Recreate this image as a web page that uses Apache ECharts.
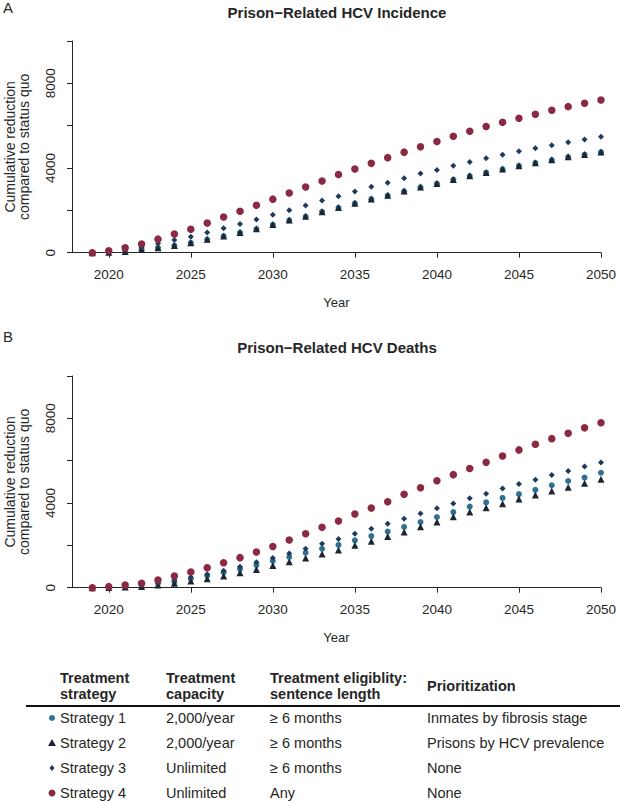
<!DOCTYPE html>
<html>
<head>
<meta charset="utf-8">
<script src="https://cdn.jsdelivr.net/npm/echarts@6/dist/echarts.min.js"></script>
<style>
  html, body { margin: 0; padding: 0; background: #fff; }
  #chart { width: 620px; height: 801px; }
</style>
</head>
<body>
<div id="chart"></div>
<script>
const years = [2019, 2020, 2021, 2022, 2023, 2024, 2025, 2026, 2027, 2028, 2029, 2030, 2031, 2032, 2033, 2034,
  2035, 2036, 2037, 2038, 2039, 2040, 2041, 2042, 2043, 2044, 2045, 2046, 2047, 2048, 2049, 2050];
const xTicks = [2020, 2025, 2030, 2035, 2040, 2045, 2050];
const yLabels = [0, 4000, 8000];

// panel A: cumulative incidence reduction
const incS1 = [0, 20, 60, 150, 230, 340, 465, 620, 780, 950, 1120, 1320, 1530, 1710, 1930, 2120,
  2330, 2530, 2700, 2900, 3090, 3260, 3450, 3620, 3780, 3940, 4100, 4240, 4380, 4520, 4630, 4750];
const incS2 = [0, 20, 60, 160, 235, 345, 470, 630, 785, 960, 1130, 1330, 1540, 1720, 1940, 2130,
  2340, 2540, 2710, 2910, 3100, 3270, 3460, 3630, 3790, 3950, 4110, 4250, 4390, 4530, 4640, 4760];
const incS3 = [0, 30, 125, 250, 440, 600, 750, 960, 1150, 1350, 1570, 1790, 2010, 2230, 2460, 2670,
  2890, 3110, 3310, 3520, 3740, 3910, 4110, 4280, 4460, 4630, 4790, 4930, 5080, 5220, 5350, 5480];
const incS4 = [0, 90, 235, 410, 640, 880, 1110, 1400, 1690, 1960, 2240, 2530, 2820, 3100, 3390, 3690,
  3950, 4220, 4490, 4750, 5000, 5250, 5500, 5740, 5960, 6160, 6350, 6540, 6730, 6900, 7060, 7210];

// panel B: cumulative deaths averted
const dthS1 = [0, 15, 60, 125, 205, 285, 425, 570, 725, 880, 1070, 1260, 1450, 1650, 1840, 2020,
  2240, 2440, 2650, 2870, 3100, 3340, 3570, 3830, 4030, 4240, 4420, 4620, 4840, 5040, 5200, 5430];
const dthS2 = [0, 5, 30, 60, 125, 205, 315, 425, 550, 710, 865, 1050, 1230, 1400, 1590, 1780,
  2000, 2200, 2420, 2630, 2880, 3100, 3350, 3570, 3780, 3970, 4190, 4380, 4570, 4750, 4930, 5120];
const dthS3 = [0, 20, 80, 140, 235, 360, 490, 630, 800, 990, 1200, 1400, 1620, 1840, 2080, 2300,
  2550, 2790, 3020, 3260, 3500, 3750, 3980, 4220, 4440, 4680, 4900, 5100, 5320, 5510, 5720, 5910];
const dthS4 = [0, 50, 125, 205, 360, 550, 740, 945, 1180, 1420, 1685, 1950, 2250, 2550, 2850, 3150,
  3480, 3760, 4060, 4410, 4720, 5050, 5340, 5630, 5920, 6220, 6510, 6780, 7040, 7290, 7550, 7790];

// legend table
const strategies = ["Strategy 1", "Strategy 2", "Strategy 3", "Strategy 4"];
const capacity = ["2,000/year", "2,000/year", "Unlimited", "Unlimited"];
const eligibility = ["\u2265 6 months", "\u2265 6 months", "\u2265 6 months", "Any"];
const prioritization = ["Inmates by fibrosis stage", "Prisons by HCV prevalence", "None", "None"];
const headers = ["Treatment\nstrategy", "Treatment\ncapacity", "Treatment eligiblity:\nsentence length", "Prioritization"];

const colors = ["#2f7193", "#1b2632", "#1f3a5c", "#8b2942"];
const symbols = ["circle", "triangle", "diamond", "circle"];
const sizes = [6, 7, 6, 7.5];

const FONT = "'Liberation Sans', Arial, sans-serif";
const INK = "#262626";

const chart = echarts.init(document.getElementById("chart"), null, { renderer: "svg" });

function mkX(idx) {
  return {
    gridIndex: idx, type: "value", min: 2017.76, max: 2050, offset: 5,
    name: "Year", nameLocation: "middle", nameGap: 38,
    nameTextStyle: { fontFamily: FONT, fontSize: 13, color: INK },
    axisLine: { lineStyle: { color: INK, width: 1 } },
    axisTick: { customValues: xTicks, length: 5, lineStyle: { color: INK } },
    axisLabel: { customValues: xTicks, margin: 10, fontFamily: FONT, fontSize: 13.5, color: INK,
      formatter: v => String(v) },
    splitLine: { show: false }
  };
}
function mkY(idx) {
  return {
    gridIndex: idx, type: "value", min: 0, max: 10000, interval: 2000,
    name: "Cumulative reduction\ncompared to status quo", nameLocation: "middle", nameGap: 41, nameRotate: 90,
    nameTextStyle: { fontFamily: FONT, fontSize: 14, color: INK, lineHeight: 14 },
    axisLine: { show: true, lineStyle: { color: INK, width: 1 } },
    axisTick: { show: true, length: 5, lineStyle: { color: INK } },
    axisLabel: { customValues: yLabels, rotate: 90, margin: 15, fontFamily: FONT, fontSize: 13.5, color: INK,
      formatter: v => String(v) },
    splitLine: { show: false }
  };
}

function mkSeries(idx, arrays) {
  return arrays.map((vals, k) => ({
    type: "scatter", xAxisIndex: idx, yAxisIndex: idx, clip: false,
    symbol: symbols[k], symbolSize: sizes[k],
    itemStyle: { color: colors[k], opacity: 1 },
    data: years.map((y, i) => [y, vals[i]])
  }));
}

const graphic = [];
const colX = [60, 166, 270, 427];
headers.forEach((h, j) => {
  graphic.push({ type: "text", x: colX[j], y: 686, style: {
    text: h, font: "bold 14.5px " + FONT, fill: INK, verticalAlign: "middle", lineHeight: 16 } });
});
graphic.push({ type: "line", shape: { x1: 26, y1: 706, x2: 620, y2: 706 }, style: { stroke: "#111", lineWidth: 2 } });
const rowY = [718, 743, 768, 793];
strategies.forEach((s, i) => {
  const cells = [s, capacity[i], eligibility[i], prioritization[i]];
  cells.forEach((c, j) => {
    graphic.push({ type: "text", x: colX[j], y: rowY[i], style: {
      text: c, font: "14.5px " + FONT, fill: INK, verticalAlign: "middle" } });
  });
  const cx = 52, cy = rowY[i];
  if (symbols[i] === "circle") {
    graphic.push({ type: "circle", shape: { cx: cx, cy: cy, r: i === 3 ? 3.5 : 3 }, style: { fill: colors[i] } });
  } else if (symbols[i] === "triangle") {
    graphic.push({ type: "polygon", shape: { points: [[cx, cy - 4], [cx + 4, cy + 3], [cx - 4, cy + 3]] }, style: { fill: colors[i] } });
  } else {
    graphic.push({ type: "polygon", shape: { points: [[cx, cy - 3], [cx + 2.5, cy], [cx, cy + 3], [cx - 2.5, cy]] }, style: { fill: colors[i] } });
  }
});

chart.setOption({
  animation: false,
  backgroundColor: "#fff",
  textStyle: { fontFamily: FONT },
  title: [
    { text: "A", left: 3, top: 0, padding: 0, textStyle: { fontFamily: FONT, fontSize: 15, fontWeight: "normal", color: INK } },
    { text: "Prison\u2212Related HCV Incidence", left: 337, top: 5, padding: 0, textAlign: "center",
      textStyle: { fontFamily: FONT, fontSize: 15, fontWeight: "bold", color: INK } },
    { text: "B", left: 3, top: 329, padding: 0, textStyle: { fontFamily: FONT, fontSize: 15, fontWeight: "normal", color: INK } },
    { text: "Prison\u2212Related HCV Deaths", left: 337, top: 340, padding: 0, textAlign: "center",
      textStyle: { fontFamily: FONT, fontSize: 15, fontWeight: "bold", color: INK } }
  ],
  grid: [
    { left: 72, right: 19, top: 41, height: 211.7, containLabel: false, outerBoundsMode: "none" },
    { left: 72, right: 19, top: 376, height: 211.7, containLabel: false, outerBoundsMode: "none" }
  ],
  xAxis: [mkX(0), mkX(1)],
  yAxis: [mkY(0), mkY(1)],
  series: mkSeries(0, [incS1, incS2, incS3, incS4]).concat(mkSeries(1, [dthS1, dthS2, dthS3, dthS4])),
  graphic: graphic
});
</script>
</body>
</html>
